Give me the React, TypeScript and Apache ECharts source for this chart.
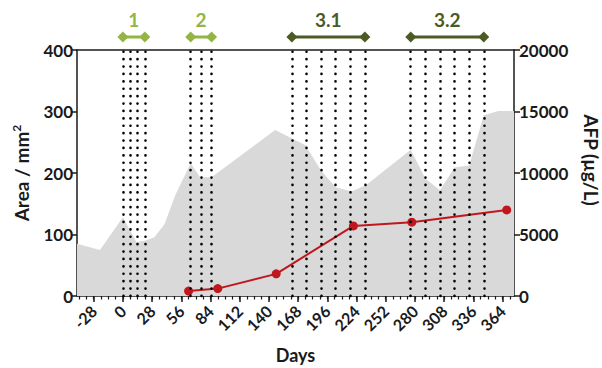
import React, { useEffect, useRef } from "react";
import * as echarts from "echarts";

// Tumour area over time (grey band), in days
const areaDays = [-44, -22, 0, 13, 21, 30, 40, 50, 65, 74, 85, 146, 175, 190, 204, 219, 233, 276, 290, 304, 318, 332, 346, 360, 375];
const areaValues = [85, 75, 128, 88, 90, 95, 117, 163, 216, 193, 193, 270, 245, 204, 177, 170, 180, 238, 191, 172, 209, 212, 294, 301, 301];

// AFP measurements (µg/L)
const afpDays = [63, 91, 147, 221, 277, 368];
const afpValues = [400, 600, 1800, 5700, 6000, 7000];

// Treatment days (dotted verticals)
const treatmentDays = [0, 7, 14, 21, 65, 75, 85, 162, 176, 190, 204, 218, 232, 276, 290, 304, 318, 332, 346];

// Treatment phases (arrows at the top)
const phaseNames = ["1", "2", "3.1", "3.2"];
const phaseStarts = [0, 65, 162, 276];
const phaseEnds = [21, 85, 232, 346];
const phaseColors = ["#94b544", "#94b544", "#4c5a24", "#4c5a24"];

// Axis ticks
const dayLabels = [-28, 0, 28, 56, 84, 112, 140, 168, 196, 224, 252, 280, 308, 336, 364];
const dayMinorTicks: number[] = [];
for (let d = -42; d <= 371; d += 7) dayMinorTicks.push(d);

const X_MIN = -44;
const X_MAX = 375;
const FONT = "Lato";
const INK = "#1a1a1a";

export default function App() {
  const ref = useRef<HTMLDivElement>(null);

  useEffect(() => {
    if (!ref.current) return;
    const chart = echarts.init(ref.current, undefined, { renderer: "svg" });

    const axisLine = { show: true, onZero: false, lineStyle: { color: INK, width: 1.5 } };
    const labelStyle = { fontFamily: FONT, fontWeight: "bold" as const, color: INK, fontSize: 17 };

    const phaseSeries = phaseNames.map((name, i) => ({
      type: "line",
      xAxisIndex: 3,
      yAxisIndex: 2,
      data: [
        [phaseStarts[i], 0],
        [phaseEnds[i], 0],
      ],
      symbol: "diamond",
      symbolSize: 11,
      itemStyle: { color: phaseColors[i] },
      lineStyle: { color: phaseColors[i], width: 3 },
      silent: true,
      z: 5,
      markPoint: {
        symbol: "circle",
        symbolSize: 0,
        silent: true,
        data: [{ coord: [(phaseStarts[i] + phaseEnds[i]) / 2, 0], value: name }],
        label: {
          show: true,
          formatter: name,
          offset: [0, -18],
          color: phaseColors[i],
          fontFamily: FONT,
          fontWeight: "bold",
          fontSize: 19,
        },
      },
    }));

    chart.setOption({
      animation: false,
      textStyle: { fontFamily: FONT },
      grid: [
        { left: 77, right: 88, top: 50, bottom: 72, outerBoundsMode: "none" },
        { left: 77, right: 88, top: 27, height: 20, outerBoundsMode: "none" },
      ],
      xAxis: [
        {
          type: "value",
          gridIndex: 0,
          position: "bottom",
          min: X_MIN,
          max: X_MAX,
          axisLine,
          splitLine: { show: false },
          axisTick: { show: true, customValues: dayLabels, length: 6, lineStyle: { color: INK, width: 1.5 } },
          axisLabel: { ...labelStyle, fontSize: 16, rotate: 45, margin: 12, customValues: dayLabels },
          name: "Days",
          nameLocation: "middle",
          nameGap: 50,
          nameTextStyle: { fontFamily: FONT, fontWeight: "bold", fontSize: 18, color: INK },
        },
        {
          type: "value",
          gridIndex: 0,
          position: "bottom",
          min: X_MIN,
          max: X_MAX,
          axisLine: { show: false, onZero: false },
          splitLine: { show: false },
          axisTick: { show: true, customValues: dayMinorTicks, length: 3.5, lineStyle: { color: INK, width: 1.2 } },
          axisLabel: { show: false },
        },
        {
          type: "value",
          gridIndex: 0,
          position: "top",
          min: X_MIN,
          max: X_MAX,
          axisLine,
          splitLine: { show: false },
          axisTick: { show: false },
          axisLabel: { show: false },
        },
        {
          type: "value",
          gridIndex: 1,
          min: X_MIN,
          max: X_MAX,
          show: false,
        },
      ],
      yAxis: [
        {
          type: "value",
          gridIndex: 0,
          position: "left",
          min: 0,
          max: 400,
          interval: 100,
          axisLine,
          splitLine: { show: false },
          axisTick: { show: true, length: 6, lineStyle: { color: INK, width: 1.5 } },
          axisLabel: { ...labelStyle, margin: 4 },
          name: "Area / mm{s|2}",
          nameLocation: "middle",
          nameGap: 45,
          nameTextStyle: {
            fontFamily: FONT,
            fontWeight: "bold",
            fontSize: 19,
            color: INK,
            rich: {
              s: { fontFamily: FONT, fontWeight: "bold", fontSize: 12, color: INK, verticalAlign: "top", padding: [0, 0, 10, 0] },
            },
          },
        },
        {
          type: "value",
          gridIndex: 0,
          position: "right",
          min: 0,
          max: 20000,
          interval: 5000,
          axisLine,
          splitLine: { show: false },
          axisTick: { show: true, length: 6, lineStyle: { color: INK, width: 1.5 } },
          axisLabel: { ...labelStyle, margin: 5, formatter: (v: number) => String(v) },
          name: "AFP (µg/L)",
          nameLocation: "middle",
          nameRotate: -90,
          nameGap: 68,
          nameTextStyle: { fontFamily: FONT, fontWeight: "bold", fontSize: 19, color: INK, padding: [0, 26, 0, 0] },
        },
        {
          type: "value",
          gridIndex: 1,
          min: -1,
          max: 1,
          show: false,
        },
      ],
      series: [
        {
          type: "line",
          xAxisIndex: 0,
          yAxisIndex: 0,
          data: areaDays.map((d, i) => [d, areaValues[i]]),
          symbol: "none",
          lineStyle: { width: 0 },
          areaStyle: { color: "#d9d9d9", opacity: 1 },
          silent: true,
          z: 1,
          markLine: {
            silent: true,
            symbol: ["none", "none"],
            label: { show: false },
            lineStyle: { color: "#000", width: 2.6, type: [0.1, 7.3], cap: "round" },
            data: treatmentDays.map((d) => ({ xAxis: d })),
          },
        },
        {
          type: "line",
          xAxisIndex: 0,
          yAxisIndex: 1,
          data: afpDays.map((d, i) => [d, afpValues[i]]),
          symbol: "circle",
          symbolSize: 9,
          itemStyle: { color: "#c0171f" },
          lineStyle: { color: "#c0171f", width: 2 },
          z: 4,
        },
        ...phaseSeries,
      ],
    });

    return () => chart.dispose();
  }, []);

  return <div ref={ref} style={{ width: 602, height: 368, position: "absolute", left: 0, top: 0 }} />;
}
